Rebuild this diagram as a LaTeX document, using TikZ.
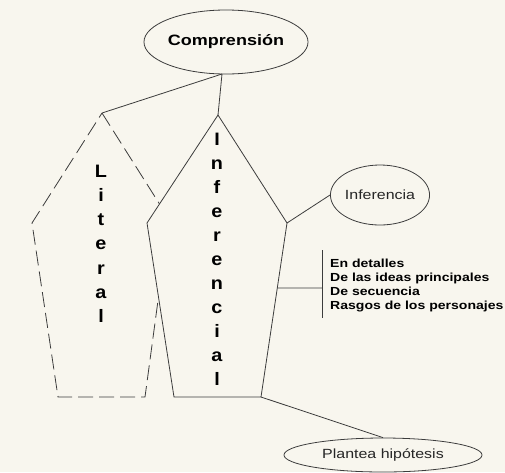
\documentclass[tikz,border=0pt]{standalone}
\usepackage{fontspec}
\setmainfont{Liberation Sans}
\newfontfamily\wfont[FakeStretch=1.2]{Liberation Sans}
\newfontfamily\lfont[FakeStretch=1.1]{Liberation Sans}
\usetikzlibrary{shapes.geometric,calc}
\definecolor{bg}{RGB}{248,246,238}
\definecolor{ln}{RGB}{60,60,60}
\begin{document}
\begin{tikzpicture}[x=1pt,y=-1pt,
  edge/.style={draw=ln,line width=0.8pt},
  dashedge/.style={draw=ln,line width=0.8pt,dash pattern=on 15pt off 6pt},
  oval/.style={ellipse,draw=ln,line width=0.8pt,inner sep=0pt,fill=bg},
  letter/.style={anchor=base,inner sep=0pt,font=\lfont\bfseries\fontsize{18}{20}\selectfont,text=black},
  item/.style={anchor=base west,inner sep=0pt,font=\wfont\bfseries\fontsize{11.7}{14}\selectfont,text=black},
  plain/.style={font=\wfont\fontsize{13.3}{15}\selectfont,text=black!85}]
\fill[bg] (0,0) rectangle (505,472);
\useasboundingbox (0,0) rectangle (505,472);

% ovals
\node[oval,minimum width=150pt,minimum height=64pt,font=\wfont\bfseries\fontsize{15}{17}\selectfont] (comp) at (226,42) {Comprensión};
\node[oval,plain,minimum width=95pt,minimum height=60pt] (inf) at (380,195) {Inferencia};
\node[oval,plain,minimum width=198pt,minimum height=34pt] (ph) at (383,455) {Plantea hipótesis};

% pentagon vertices
\coordinate (la) at (102,113);
\coordinate (lr) at (169,219);
\coordinate (lbr) at (145,397);
\coordinate (lbl) at (58,397);
\coordinate (ll) at (32,223);
\coordinate (ia) at (218,115);
\coordinate (ir) at (287,223);
\coordinate (ibr) at (261,397);
\coordinate (ibl) at (174,397);
\coordinate (il) at (147,223);
\coordinate (j) at (222,74);

% connectors from Comprension
\draw[edge] (j) -- (la);
\draw[edge] (j) -- (ia);

% Literal (dashed)
\draw[dashedge] (la) -- (lr) -- (lbr) -- (lbl) -- (ll) -- cycle;
% Inferencial (solid, covering)
\filldraw[edge,fill=bg] (ia) -- (ir) -- (ibr) -- (ibl) -- (il) -- cycle;

% letters
\foreach \c [count=\i] in {L,i,t,e,r,a,l}
  \node[letter] (lit\i) at (101,{177+24.3*(\i-1)}) {\c};
\foreach \c [count=\i] in {I,n,f,e,r,e,n,c,i,a,l}
  \node[letter] (inl\i) at (217,{145+24*(\i-1)}) {\c};

% connectors
\draw[edge] (ir) -- (inf.west);
\draw[edge] (ibr) -- (ph.north);
\coordinate (bm) at ($(ir)!0.374!(ibr)$);
\coordinate (bk) at (322,288);
\coordinate (bt) at (322,250);
\coordinate (bb) at (322,318);
\draw[edge] (bm) -- (bk);
\draw[edge] (bt) -- (bb);

% list
\node[item] (l1) at (330,267) {En detalles};
\node[item] (l2) at (330,281) {De las ideas principales};
\node[item] (l3) at (330,295) {De secuencia};
\node[item] (l4) at (330,309) {Rasgos de los personajes};
\end{tikzpicture}
\end{document}
